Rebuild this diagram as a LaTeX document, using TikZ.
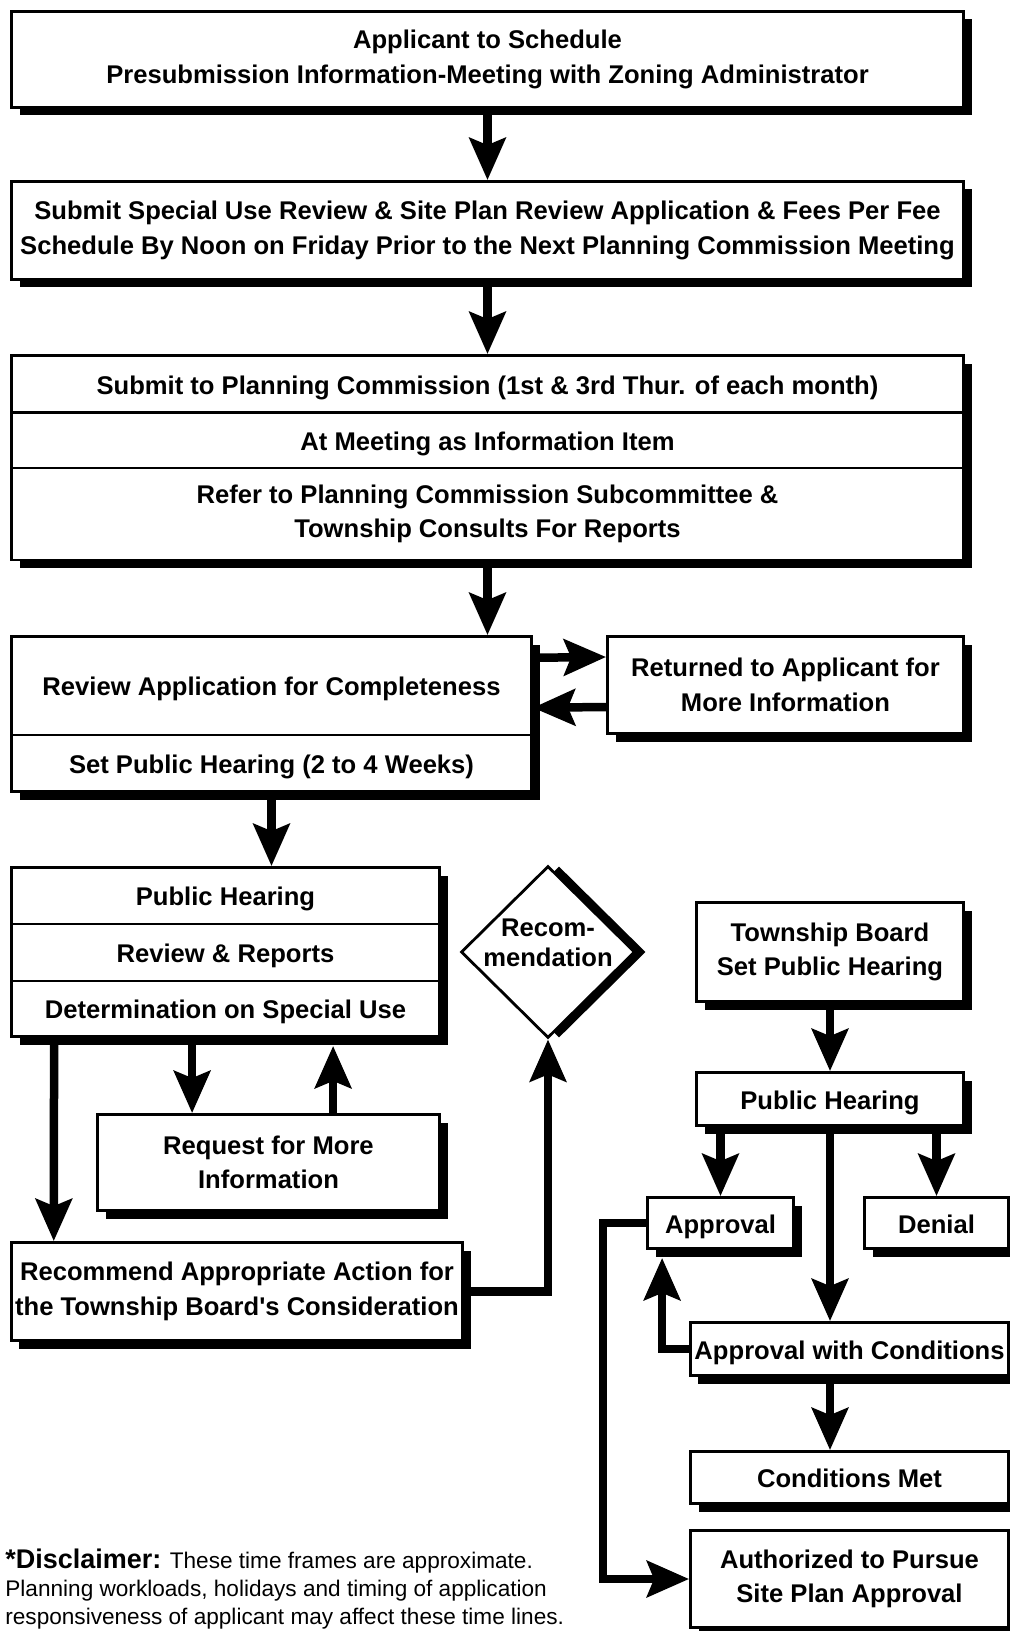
\documentclass[tikz,border=0pt]{standalone}
\usepackage{fontspec}
\setmainfont{Liberation Sans}[Ligatures=TeXOff]
\usetikzlibrary{arrows.meta,shapes.geometric,shadows}
\begin{document}
\begin{tikzpicture}[x=0.5pt,y=-0.5pt,
  box/.style={draw,fill=white,line width=1.4pt,inner sep=2pt,align=center,
    font=\fontsize{12.8}{17.2}\selectfont\bfseries,
    general shadow={fill=black,shadow xshift=4pt,shadow yshift=-4pt}},
  row/.style={box,text height=12.5pt,text depth=2.4pt},
  decision/.style={diamond,draw,fill=white,line width=1.4pt,inner sep=-5pt,align=center,
    text depth=9.5pt,font=\fontsize{12.8}{15}\selectfont\bfseries,
    general shadow={fill=black,shadow xshift=5.5pt,shadow yshift=0pt}},
  flow/.style={line width=4.25pt,-{Stealth[length=21pt,width=18pt,inset=3.5pt]}}]

  \useasboundingbox (0,0) rectangle (1010,1631);
  \clip (0,0) rectangle (1010,1631);

  % main column
  \node[box,minimum width=476pt,minimum height=48pt] (apply) at (487.5,59.5)
    {Applicant to Schedule\\Presubmission Information-Meeting with Zoning Administrator};
  \node[box,minimum width=476pt,minimum height=49pt] (submit) at (487.5,230.5)
    {Submit Special Use Review \& Site Plan Review Application \& Fees Per Fee\\
     Schedule By Noon on Friday Prior to the Next Planning Commission Meeting};
  \node[row,minimum width=476pt,minimum height=28.5pt] (commission) at (487.5,384)
    {Submit to Planning Commission (1st \& 3rd Thur. of each month)};
  \node[row,minimum width=476pt,minimum height=27.75pt] (item) at (487.5,440.25)
    {At Meeting as Information Item};
  \node[box,minimum width=476pt,minimum height=46pt] (refer) at (487.5,514)
    {Refer to Planning Commission Subcommittee \&\\Township Consults For Reports};

  \node[row,minimum width=260pt,minimum height=49.25pt] (review) at (271.5,685.75)
    {Review Application for Completeness};
  \node[row,minimum width=260pt,minimum height=28.25pt] (setph) at (271.5,763.25)
    {Set Public Hearing (2 to 4 Weeks)};
  \node[box,minimum width=178pt,minimum height=48.5pt] (returned) at (785.5,685)
    {Returned to Applicant for\\More Information};

  % planning commission hearing
  \node[row,minimum width=214pt,minimum height=28.25pt] (hearing) at (225.5,895.75)
    {Public Hearing};
  \node[row,minimum width=214pt,minimum height=28.5pt] (reports) at (225.5,952.5)
    {Review \& Reports};
  \node[row,minimum width=214pt,minimum height=27.75pt] (determ) at (225.5,1008.75)
    {Determination on Special Use};
  \node[box,minimum width=171pt,minimum height=48pt] (request) at (268.5,1162.5)
    {Request for More\\Information};
  \node[box,minimum width=225.5pt,minimum height=49pt] (recommend) at (237,1291.5)
    {Recommend Appropriate Action for\\the Township Board's Consideration};
  \node[decision,minimum width=87pt,minimum height=86pt] (recom) at (548,952)
    {Recom-\\mendation};

  % township board
  \node[box,minimum width=133.5pt,minimum height=49.5pt] (tboard) at (830,952)
    {Township Board\\Set Public Hearing};
  \node[row,minimum width=133.5pt,minimum height=26.5pt] (tbhearing) at (830,1099)
    {Public Hearing};
  \node[row,minimum width=73pt,minimum height=25.5pt] (approval) at (720.5,1223)
    {Approval};
  \node[row,minimum width=72pt,minimum height=25.5pt] (denial) at (936.5,1223)
    {Denial};
  \node[row,minimum width=159pt,minimum height=26.5pt] (conditions) at (849.5,1349)
    {Approval with Conditions};
  \node[row,minimum width=159pt,minimum height=26pt] (met) at (849.5,1477.5)
    {Conditions Met};
  \node[box,minimum width=159pt,minimum height=48.5pt] (authorized) at (849.5,1579)
    {Authorized to Pursue\\Site Plan Approval};

  \node[anchor=north west,align=left,inner sep=0pt,font=\fontsize{11.3}{14}\selectfont]
    (disclaimer) at (5,1549)
    {{\fontsize{13.5}{14}\selectfont\bfseries *Disclaimer:} These time frames are approximate.\\
     Planning workloads, holidays and timing of application\\
     responsiveness of applicant may affect these time lines.};

  % connectors
  \draw[flow] (apply) -- (submit);
  \draw[flow] (submit) -- (commission);
  \draw[flow] (refer.south) -- (review.north -| refer.south);
  \draw[flow] ([yshift=14pt]review.east) -- ([yshift=14pt]returned.west);
  \draw[flow] ([yshift=-11pt]returned.west) -- ([yshift=-11pt]review.east);
  \draw[flow] (setph.south) -- (hearing.north -| setph.south);
  \draw[flow] ([xshift=22pt]determ.south west) -- ([xshift=22pt]recommend.north west);
  \draw[flow] ([xshift=91pt]determ.south west) -- ([xshift=48pt]request.north west);
  \draw[flow] ([xshift=118.5pt]request.north west) -- ([xshift=161.5pt,yshift=-4pt]determ.south west);
  \draw[flow] (recommend.east) -| (recom.south);

  \draw[flow] (tboard) -- (tbhearing);
  \draw[flow] (tbhearing.south -| approval.north) -- (approval.north);
  \draw[flow] (tbhearing.south -| denial.north) -- (denial.north);
  \draw[flow] (tbhearing.south) -- (conditions.north -| tbhearing.south);
  \draw[flow] (conditions.west) -| ([xshift=8pt,yshift=-4pt]approval.south west);
  \draw[flow] (conditions.south -| tbhearing.south) -- (met.north -| tbhearing.south);
  \draw[flow] (approval.west) -- ++(-43,0) |- (authorized.west);
\end{tikzpicture}
\end{document}
